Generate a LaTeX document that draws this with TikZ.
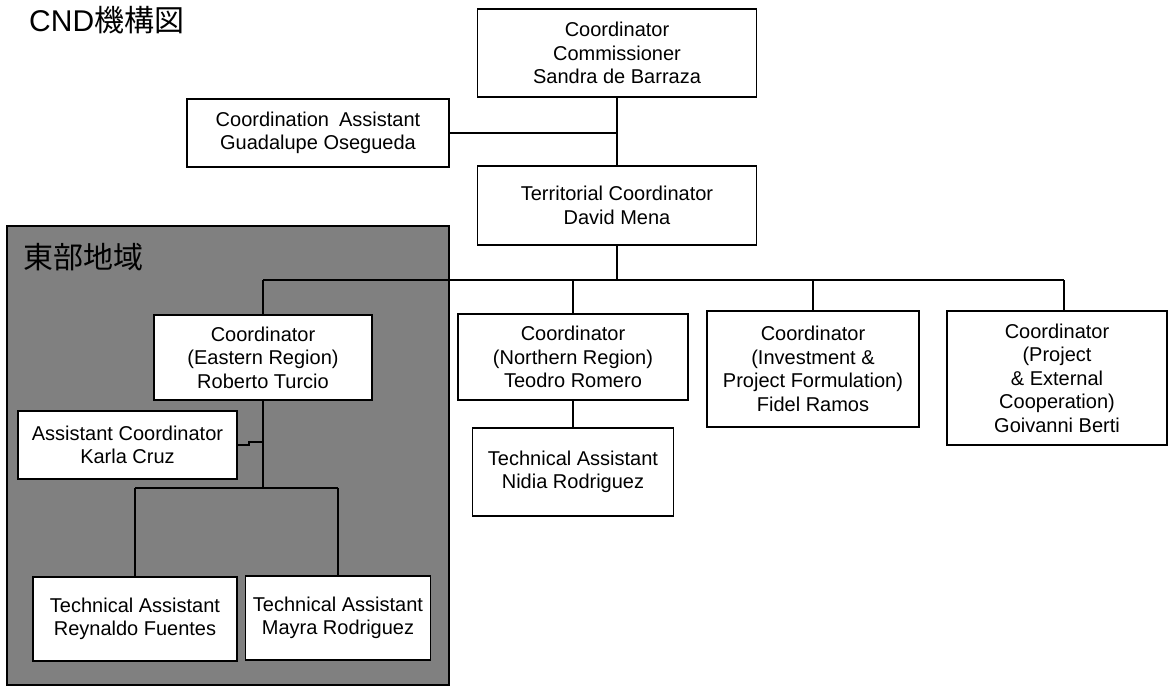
\documentclass[tikz,border=0pt]{standalone}
\usepackage{fontspec}
\setmainfont{Liberation Sans}
\newfontfamily\cjk{Noto Sans CJK JP}
\usetikzlibrary{calc}

\begin{document}
\begin{tikzpicture}[x=1pt,y=-1pt,
  box/.style={draw=black, fill=white, line width=1.5pt, align=center,
              inner sep=0pt, font=\fontsize{20}{23.5}\selectfont},
  link/.style={draw=black, line width=1.5pt},
  regionfill/.style={fill=black!50, draw=black, line width=1.5pt}]
\useasboundingbox (0,0) rectangle (1175,691);

% title
\node[anchor=north west, inner sep=0pt, font=\fontsize{30}{31}\selectfont]
  (title) at (29,6) {CND{\cjk 機構図}};

% eastern region panel
\path[regionfill] (7,226) rectangle (449,685);
\node[anchor=west, inner sep=0pt, font=\fontsize{30}{31}\selectfont\cjk, text=black]
  (regionlabel) at (23,257) {東部地域};

% head office
\node[box, minimum width=279, minimum height=88] (comm) at (617,53)
  {Coordinator\\Commissioner\\Sandra de Barraza};
\node[box, minimum width=262, minimum height=68] (cassist) at (318,133)
  {Coordination\enspace Assistant\\Guadalupe Osegueda};
\node[box, minimum width=279, minimum height=79] (terr) at (617,205.5)
  {Territorial Coordinator\\David Mena};

% coordinators
\node[box, minimum width=218, minimum height=85] (east) at (263,357.5)
  {Coordinator\\(Eastern Region)\\Roberto Turcio};
\node[box, minimum width=230, minimum height=86] (north) at (573,357)
  {Coordinator\\(Northern Region)\\Teodro Romero};
\node[box, minimum width=212, minimum height=116] (invest) at (813,369)
  {Coordinator\\(Investment \&\\Project Formulation)\\Fidel Ramos};
\node[box, minimum width=220, minimum height=134] (proj) at (1057,378)
  {Coordinator\\(Project\\\& External\\Cooperation)\\Goivanni Berti};

% assistants
\node[box, minimum width=201, minimum height=88] (nidia) at (573,472)
  {Technical Assistant\\Nidia Rodriguez};
\node[box, minimum width=219, minimum height=68] (karla) at (127.5,445)
  {Assistant Coordinator\\Karla Cruz};
\node[box, minimum width=204, minimum height=84] (reyn) at (135,619)
  {Technical Assistant\\Reynaldo Fuentes};
\node[box, minimum width=185, minimum height=84] (mayra) at (338,618)
  {Technical Assistant\\Mayra Rodriguez};

% bus coordinates
\coordinate (busL) at (263,280);
\coordinate (busR) at (1064,280);
\coordinate (subbus) at (263,488);

% connectors
\draw[link] (comm.south) -- (terr.north);
\draw[link] (cassist.east) -- (cassist.east -| comm.south);
\draw[link] (terr.south) -- (terr.south |- busL);
\draw[link] (busL) -- (busR);
\draw[link] (busL) -- (east.north);
\draw[link] (north.north |- busL) -- (north.north);
\draw[link] (invest.north |- busL) -- (invest.north);
\draw[link] (busR) -- (busR |- proj.north);
\draw[link] (north.south) -- (nidia.north);
\draw[link] (east.south) -- (subbus);
\draw[link] (subbus -| reyn.north) -- (subbus -| mayra.north);
\draw[link] (subbus -| reyn.north) -- (reyn.north);
\draw[link] (subbus -| mayra.north) -- (mayra.north);
\draw[link] (karla.east) -- ++(11,0) -- ++(0,-3) -- (east.south |- {$(karla.east)+(0,-3)$});
\end{tikzpicture}
\end{document}
